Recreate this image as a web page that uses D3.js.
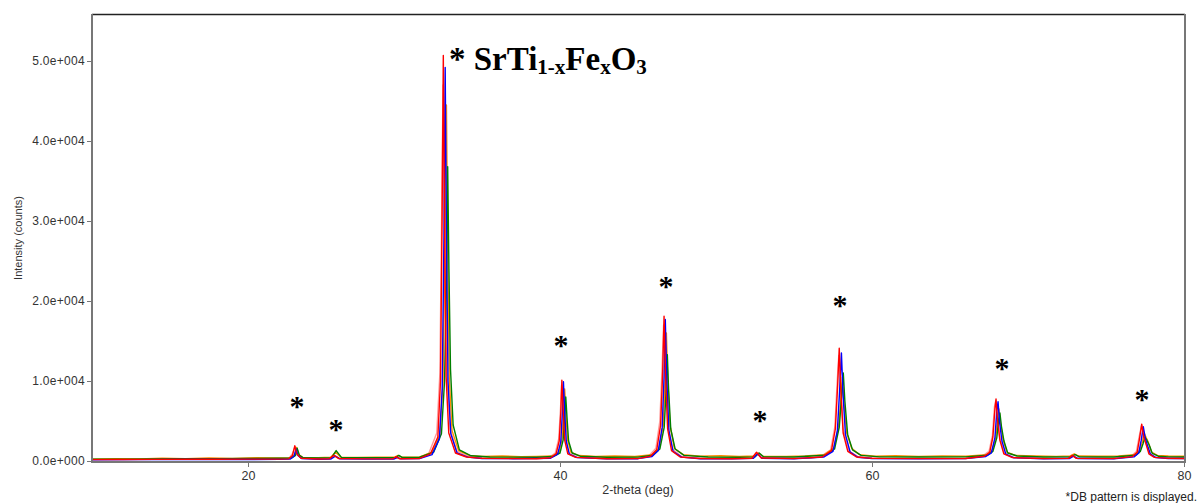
<!DOCTYPE html>
<html>
<head>
<meta charset="utf-8">
<script src="https://cdn.jsdelivr.net/npm/d3@7"></script>
<style>
  html, body { margin: 0; padding: 0; background: #fff; }
  svg { display: block; }
  .axis text { font-family: Arial, "Liberation Sans", sans-serif; fill: #333; }
  .axis path, .axis line { stroke: #777; }
</style>
</head>
<body>
<div id="chart"></div>
<script>
// tick values / labels
var xTicks = [20, 40, 60, 80];
var yTicks = [0, 10000, 20000, 30000, 40000, 50000];
var yTickLabels = ["0.0e+000", "1.0e+004", "2.0e+004", "3.0e+004", "4.0e+004", "5.0e+004"];

// where the "*" markers sit, in [2-theta, counts]
var markedPeaks = [[23.14, 7375], [25.64, 4500], [40.06, 15000], [46.79, 22375], [52.82, 5625], [57.95, 20000], [68.33, 12125], [77.31, 8250]];

// [2-theta, counts]
var pink = [[10,200],[14,220],[18,240],[22,260],[22.6,300],[22.85,900],[23.02,1800],[23.2,900],[23.5,380],[25,280],[25.25,300],[25.52,750],[25.85,320],[28,300],[31,350],[31.6,1000],[32.1,3500],[32.3,11000],[32.42,32000],[32.5,47000],[32.58,32000],[32.72,12000],[32.95,4000],[33.4,1200],[34.2,550],[36,350],[39.3,450],[39.7,1000],[39.92,2800],[40.03,6500],[40.1,9500],[40.2,6800],[40.33,2800],[40.55,1000],[41.1,500],[44,330],[45.7,650],[46.15,1600],[46.4,5000],[46.55,12000],[46.64,17000],[46.75,12000],[46.92,4500],[47.2,1500],[47.8,550],[50,330],[52.3,380],[52.58,1000],[52.9,400],[56,350],[56.7,550],[57.35,1400],[57.62,4300],[57.77,10000],[57.87,13200],[57.98,9500],[58.15,4000],[58.5,1300],[59.1,550],[61,350],[66,350],[67.1,650],[67.5,1200],[67.72,3200],[67.85,6800],[67.93,7500],[68.04,5300],[68.2,2800],[68.48,950],[69.1,450],[72,350],[72.55,360],[72.82,700],[73.1,360],[76.6,580],[76.95,1200],[77.12,3000],[77.27,4400],[77.4,3200],[77.55,2300],[77.78,950],[78.15,480],[80,350]];

var orange = [[10,230],[11.5,300],[13,260],[14.5,340],[16,300],[17.5,380],[19,330],[20.5,400],[22,380],[22.75,420],[23.0,800],[23.12,1700],[23.25,800],[23.5,450],[24.5,420],[25.3,480],[25.62,1100],[25.95,480],[27,430],[28.2,480],[29.4,470],[29.62,700],[29.85,480],[31,520],[31.8,1100],[32.3,3300],[32.5,10000],[32.62,26000],[32.72,44500],[32.8,27000],[32.9,10500],[33.08,3800],[33.5,1300],[34.2,700],[35,560],[36.3,620],[37.5,540],[38.5,580],[39.5,620],[39.95,1100],[40.13,2800],[40.23,5800],[40.3,9000],[40.38,6000],[40.48,2700],[40.7,1100],[41.2,680],[42.3,560],[43.5,620],[44.8,560],[45.9,800],[46.35,1600],[46.62,4500],[46.74,10000],[46.82,16000],[46.9,10500],[47.05,4500],[47.33,1600],[47.9,800],[49,600],[50.3,650],[51.5,560],[52.45,620],[52.72,1000],[53.0,600],[54.5,580],[55.7,620],[56.95,800],[57.55,1600],[57.85,4200],[58.0,7500],[58.1,10500],[58.2,7200],[58.38,3500],[58.7,1600],[59.2,800],[60.2,600],[61.5,650],[63,580],[64.5,640],[66,600],[67.35,800],[67.7,1300],[67.94,3000],[68.06,5500],[68.14,6500],[68.24,4600],[68.4,2700],[68.65,1100],[69.2,700],[70.5,620],[71.8,580],[72.7,640],[72.97,900],[73.25,620],[74.5,600],[75.8,640],[76.85,800],[77.15,1300],[77.32,2300],[77.45,3500],[77.58,2900],[77.72,2300],[77.92,1100],[78.3,700],[79,620],[80,600]];

var green = [[10,220],[12,240],[14,270],[16,280],[18,300],[20,320],[22,340],[22.8,380],[23.05,700],[23.15,1600],[23.3,700],[23.55,400],[24.5,380],[25.35,420],[25.65,1300],[26.0,420],[27.5,400],[29.45,420],[29.67,700],[29.9,430],[31,470],[31.9,1100],[32.4,3400],[32.6,10000],[32.72,22000],[32.8,36800],[32.88,24000],[32.98,11500],[33.15,4500],[33.55,1400],[34.3,650],[35.5,500],[37,480],[38.5,470],[39.55,560],[40.0,1000],[40.2,2600],[40.3,5600],[40.37,8000],[40.45,5400],[40.55,2500],[40.78,1000],[41.3,600],[43,470],[45,480],[45.95,720],[46.4,1500],[46.68,4200],[46.8,8800],[46.88,13300],[46.96,9000],[47.1,4000],[47.38,1500],[47.95,700],[49.5,500],[51.5,470],[52.5,520],[52.77,1000],[53.05,520],[55,500],[57.0,720],[57.6,1500],[57.9,4200],[58.05,8000],[58.16,11000],[58.26,7500],[58.44,3300],[58.75,1400],[59.3,700],[60.5,520],[63,500],[66,510],[67.4,720],[67.75,1200],[68.0,2900],[68.12,5200],[68.2,6000],[68.3,4300],[68.46,2500],[68.7,1000],[69.3,620],[71,500],[72.75,540],[73.02,800],[73.3,520],[75.5,500],[76.9,720],[77.2,1200],[77.38,2200],[77.5,3000],[77.62,2600],[77.77,2000],[77.97,950],[78.35,600],[79,520],[80,500]];

var blue = [[10,150],[13,170],[16,180],[19,190],[22,200],[22.7,230],[22.95,600],[23.08,1500],[23.2,700],[23.45,300],[24.5,220],[25.3,230],[25.6,600],[25.9,260],[27.5,230],[29.35,250],[29.58,450],[29.8,260],[31,300],[31.8,800],[32.27,2800],[32.45,9000],[32.56,28000],[32.64,49200],[32.72,29000],[32.82,10000],[33.0,3400],[33.4,1000],[34.1,480],[35,320],[37,290],[39.4,350],[39.85,850],[40.05,2400],[40.15,6000],[40.22,9900],[40.3,6200],[40.4,2500],[40.6,850],[41.1,420],[43,270],[45,290],[45.9,560],[46.3,1300],[46.55,4200],[46.67,10500],[46.75,17700],[46.84,10500],[46.98,3800],[47.25,1200],[47.8,480],[49,290],[51,270],[52.4,330],[52.68,900],[52.95,350],[55,290],[56.9,480],[57.5,1200],[57.78,3800],[57.93,9000],[58.04,13500],[58.14,8500],[58.3,3300],[58.6,1100],[59.1,470],[60,320],[63,290],[66,300],[67.3,560],[67.65,1000],[67.88,2900],[68.0,6200],[68.08,7400],[68.18,4800],[68.33,2500],[68.58,850],[69.1,400],[71,290],[72.65,310],[72.92,600],[73.2,310],[75.5,290],[76.8,520],[77.1,1000],[77.26,2600],[77.39,4300],[77.52,2800],[77.65,2000],[77.85,850],[78.2,430],[79,320],[80,310]];

var red = [[10,170],[12,190],[14,200],[16,210],[18,220],[20,230],[22,240],[22.6,260],[22.85,700],[23.0,1900],[23.12,900],[23.4,350],[24.5,250],[25.2,260],[25.5,700],[25.8,320],[27.5,260],[29.3,280],[29.5,550],[29.7,290],[31,320],[31.7,900],[32.17,3000],[32.34,10000],[32.44,30000],[32.52,50700],[32.6,30000],[32.7,10500],[32.87,3500],[33.3,1000],[34,500],[35,330],[37,300],[38.5,290],[39.4,400],[39.75,900],[39.95,2500],[40.05,6000],[40.12,10100],[40.2,6500],[40.3,2600],[40.5,900],[41,450],[43,280],[45,300],[45.8,600],[46.2,1400],[46.45,4500],[46.58,11000],[46.67,18100],[46.76,11000],[46.9,4000],[47.15,1300],[47.7,500],[49,300],[51,280],[52.3,350],[52.6,1100],[52.9,380],[55,300],[56.8,500],[57.4,1300],[57.65,4000],[57.8,9500],[57.9,14100],[58.0,9000],[58.15,3500],[58.45,1200],[59,500],[60,330],[63,300],[66,320],[67.2,600],[67.55,1100],[67.75,3000],[67.88,6500],[67.95,7750],[68.05,5000],[68.2,2600],[68.45,900],[69,420],[71,300],[72.6,330],[72.85,700],[73.1,330],[75.5,300],[76.7,550],[77.0,1100],[77.15,2800],[77.29,4600],[77.42,3000],[77.55,2200],[77.75,900],[78.1,450],[79,330],[80,320]];

var series = [
  { name: "pink", color: "#ff9a9a", values: pink },
  { name: "orange", color: "#ff8c00", values: orange },
  { name: "green", color: "#008000", values: green },
  { name: "blue", color: "#0000ff", values: blue },
  { name: "red", color: "#ff0000", values: red }
];

var width = 1199, height = 503;
var margin = { top: 14, right: 15, bottom: 42, left: 92 };

var svg = d3.select("#chart").append("svg")
  .attr("width", width)
  .attr("height", height);

var x = d3.scaleLinear().domain([10, 80]).range([margin.left, 1184]);
var y = d3.scaleLinear().domain([0, 55875]).range([461, margin.top]);

// frame: top (dark) and right (gray)
svg.append("line")
  .attr("x1", margin.left).attr("x2", 1185)
  .attr("y1", margin.top + 0.5).attr("y2", margin.top + 0.5)
  .attr("stroke", "#222").attr("stroke-width", 1.5);
svg.append("line")
  .attr("x1", 1185).attr("x2", 1185)
  .attr("y1", margin.top).attr("y2", 462)
  .attr("stroke", "#777").attr("stroke-width", 2);

// lines
var line = d3.line()
  .x(function (d) { return x(d[0]); })
  .y(function (d) { return y(d[1]); });

svg.append("g").selectAll("path")
  .data(series)
  .enter().append("path")
  .attr("fill", "none")
  .attr("stroke", function (d) { return d.color; })
  .attr("stroke-width", 1.4)
  .attr("stroke-linejoin", "round")
  .attr("d", function (d) { return line(d.values); });

// y axis
var yAxis = svg.append("g")
  .attr("class", "axis")
  .attr("transform", "translate(" + margin.left + ",0)")
  .call(d3.axisLeft(y).tickValues(yTicks).tickSize(5).tickSizeOuter(0).tickPadding(2)
    .tickFormat(function (d, i) { return yTickLabels[i]; }));
yAxis.select(".domain").attr("stroke-width", 2).attr("d", "M0," + margin.top + "V462");
yAxis.selectAll("text").attr("font-size", 12).attr("letter-spacing", "0.3px");

// x axis
var xAxis = svg.append("g")
  .attr("class", "axis")
  .attr("transform", "translate(0,462)")
  .call(d3.axisBottom(x).tickValues(xTicks).tickSize(5).tickSizeOuter(0).tickPadding(4));
xAxis.select(".domain").attr("stroke-width", 2).attr("d", "M" + (margin.left - 1) + ",0H1186");
xAxis.selectAll("text").attr("font-size", 12.5);

// axis titles
svg.append("text")
  .attr("transform", "translate(22,238) rotate(-90)")
  .attr("text-anchor", "middle")
  .attr("font-family", "Arial, 'Liberation Sans', sans-serif")
  .attr("font-size", 11)
  .attr("fill", "#333")
  .text("Intensity (counts)");

svg.append("text")
  .attr("x", 638).attr("y", 494)
  .attr("text-anchor", "middle")
  .attr("font-family", "Arial, 'Liberation Sans', sans-serif")
  .attr("font-size", 12.5)
  .attr("fill", "#333")
  .text("2-theta (deg)");

svg.append("text")
  .attr("x", 1197).attr("y", 501)
  .attr("text-anchor", "end")
  .attr("font-family", "Arial, 'Liberation Sans', sans-serif")
  .attr("font-size", 12)
  .attr("fill", "#222")
  .text("*DB pattern is displayed.");

// asterisks over peaks (glyph sits high, so shift the baseline down)
svg.append("g").selectAll("text")
  .data(markedPeaks)
  .enter().append("text")
  .attr("x", function (d) { return x(d[0]); })
  .attr("y", function (d) { return y(d[1]) + 13.5; })
  .attr("text-anchor", "middle")
  .attr("font-family", "'Liberation Serif', 'Times New Roman', serif")
  .attr("font-weight", "bold")
  .attr("font-size", 30)
  .attr("fill", "#000")
  .text("*");

// title
var title = svg.append("text")
  .attr("x", 449).attr("y", 70)
  .attr("font-family", "'Liberation Serif', 'Times New Roman', serif")
  .attr("font-weight", "bold")
  .attr("font-size", 33)
  .attr("fill", "#000");
title.append("tspan").text("* SrTi");
title.append("tspan").attr("font-size", 21).attr("dy", 4).text("1-x");
title.append("tspan").attr("dy", -4).text("Fe");
title.append("tspan").attr("font-size", 21).attr("dy", 4).text("x");
title.append("tspan").attr("dy", -4).text("O");
title.append("tspan").attr("font-size", 21).attr("dy", 4).text("3");
</script>
</body>
</html>
